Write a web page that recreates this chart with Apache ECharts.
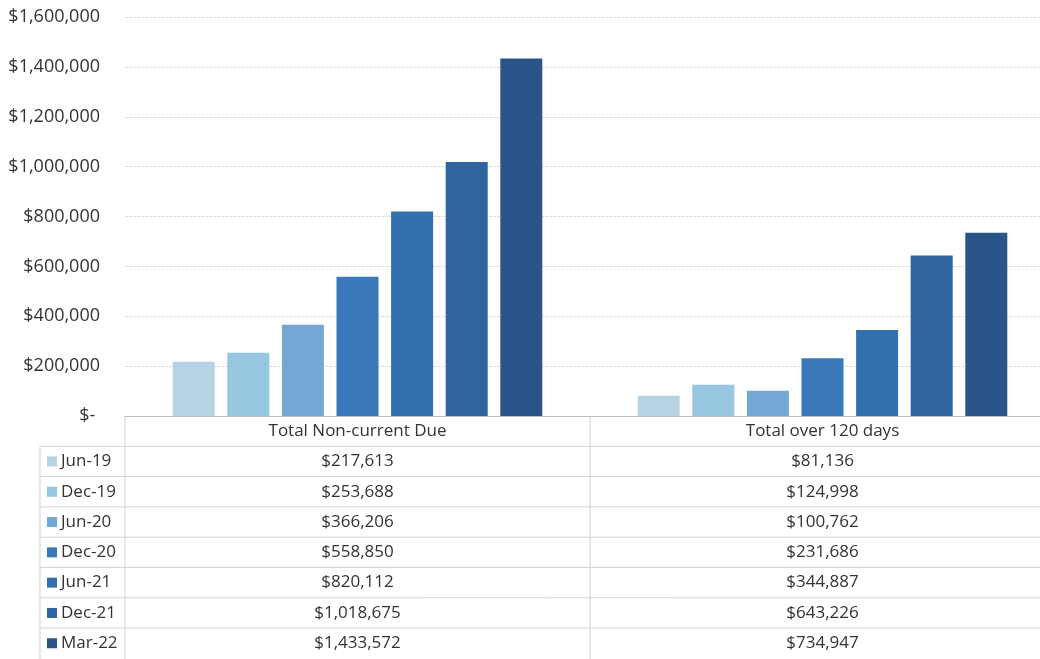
<!DOCTYPE html>
<html>
<head>
<meta charset="utf-8">
<script src="https://cdn.jsdelivr.net/npm/echarts@6/dist/echarts.min.js"></script>
<style>
    html, body { margin: 0; padding: 0; background: #fff; overflow: hidden; }
    /* the plot runs a little past the right edge of the window, as in the source picture */
    #chart-container { width: 1055px; height: 659px; }
</style>
</head>
<body>
<div id="chart-container"></div>
<script>
// data
var categories = ['Total Non-current Due', 'Total over 120 days'];
var periods = ['Jun-19', 'Dec-19', 'Jun-20', 'Dec-20', 'Jun-21', 'Dec-21', 'Mar-22'];
var nonCurrentDue = [217613, 253688, 366206, 558850, 820112, 1018675, 1433572];
var over120Days = [81136, 124998, 100762, 231686, 344887, 643226, 734947];
var periodColors = ['#b7d2e3', '#96c6e0', '#74a8d4', '#3a79b9', '#3470ae', '#2f64a1', '#2b5589'];

var yMin = 0, yMax = 1600000, yStep = 200000;

var fontName = '"Open Sans", "Noto Sans", sans-serif';
var textColor = '#333333';
var lineColor = '#d3d3d3';

// layout
var gridLeft = 125, gridTop = 17, gridBottom = 243, gridRight = 0;
var tableLeft = 40, rowH = 30.3;

function money(v) {
    return '$' + v.toLocaleString('en-US');
}

var dom = document.getElementById('chart-container');
var myChart = echarts.init(dom, null, { renderer: 'canvas' });

var series = [];
for (var i = 0; i < periods.length; i++) {
    series.push({
        name: periods[i],
        type: 'bar',
        barWidth: 42,
        barGap: '30%',
        itemStyle: { color: periodColors[i] },
        data: [nonCurrentDue[i], over120Days[i]]
    });
}

var option = {
    animation: false,
    backgroundColor: '#ffffff',
    textStyle: { fontFamily: fontName },
    grid: { left: gridLeft, right: gridRight, top: gridTop, bottom: gridBottom },
    xAxis: {
        type: 'category',
        data: categories,
        axisLine: { lineStyle: { color: '#bdbdbd' } },
        axisTick: { show: false },
        axisLabel: { show: false }
    },
    yAxis: {
        type: 'value',
        min: yMin,
        max: yMax,
        interval: yStep,
        axisLine: { show: false },
        axisTick: { show: false },
        splitLine: { lineStyle: { color: '#dcdcdc', type: [3, 1] } },
        axisLabel: {
            margin: 25,
            fontSize: 18,
            color: textColor,
            fontFamily: fontName,
            formatter: function (v) { return v === 0 ? '$- ' : money(v); }
        }
    },
    series: series
};

myChart.setOption(option);

// data table under the plot
function buildTable() {
    var w = myChart.getWidth(), h = myChart.getHeight();
    var axisY = h - gridBottom;
    var c0 = myChart.convertToPixel({ xAxisIndex: 0 }, 0);
    var c1 = myChart.convertToPixel({ xAxisIndex: 0 }, 1);
    var colW = c1 - c0;
    var colEdge = c0 + colW / 2;
    var g = [];
    var line = function (x1, y1, x2, y2) {
        g.push({ type: 'line', silent: true, shape: { x1: x1, y1: y1, x2: x2, y2: y2 },
            style: { stroke: lineColor, lineWidth: 1 } });
    };
    var text = function (x, y, s, align) {
        g.push({ type: 'text', silent: true, x: x, y: y,
            style: { text: s, fill: textColor, font: '17px ' + fontName, align: align, verticalAlign: 'middle' } });
    };
    // header row
    line(gridLeft, axisY, gridLeft, h);
    line(colEdge, axisY, colEdge, h);
    line(tableLeft, axisY + rowH, tableLeft, h);
    text(c0, axisY + rowH / 2, categories[0], 'center');
    text(c1, axisY + rowH / 2, categories[1], 'center');
    for (var i = 0; i < periods.length; i++) {
        var top = axisY + rowH * (i + 1);
        line(tableLeft, top, w, top);
        var mid = top + rowH / 2;
        g.push({ type: 'rect', silent: true, shape: { x: tableLeft + 7, y: mid - 5, width: 10, height: 10 },
            style: { fill: periodColors[i] } });
        text(tableLeft + 21, mid, periods[i], 'left');
        text(c0, mid, money(nonCurrentDue[i]), 'center');
        text(c1, mid, money(over120Days[i]), 'center');
    }
    myChart.setOption({ graphic: { elements: g } });
}
buildTable();

window.addEventListener('resize', function () {
    myChart.resize();
    buildTable();
});
</script>
</body>
</html>
